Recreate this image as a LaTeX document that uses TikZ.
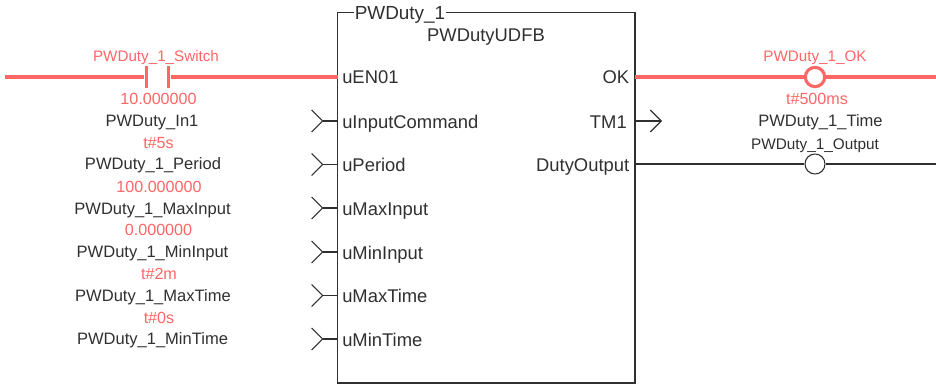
\documentclass[tikz,border=0pt]{standalone}
\usepackage{xcolor}
\usepackage{fontspec}
\setmainfont{Liberation Sans}
\usetikzlibrary{arrows.meta}
\definecolor{livered}{HTML}{FF6666}
\definecolor{wire}{HTML}{303030}

\begin{document}
\begin{tikzpicture}[
    x=0.75pt,
    y=-0.75pt,
    block/.style={
        draw=wire,
        line width=0.95pt,
        minimum width=223.1pt,
        minimum height=277.9pt,
        inner sep=0pt
    },
    pinname/.style={font=\fontsize{13.8}{15}\selectfont, text=wire, inner sep=0pt},
    varname/.style={font=\fontsize{12.4}{14}\selectfont, text=wire, inner sep=0pt, anchor=base},
    coilname/.style={font=\fontsize{11.5}{13}\selectfont, text=wire, inner sep=0pt, anchor=base},
    livename/.style={font=\fontsize{11.4}{13}\selectfont, text=livered, inner sep=0pt, anchor=base},
    value/.style={font=\fontsize{12.1}{14}\selectfont, text=livered, inner sep=0pt, anchor=base},
    plate/.style={fill=livered, minimum width=2.8pt, minimum height=17pt, inner sep=0pt},
    coil/.style={circle, draw=wire, line width=0.8pt, minimum size=15pt, inner sep=0pt},
    livecoil/.style={circle, draw=livered, line width=2.3pt, minimum size=14.5pt, inner sep=0pt},
    live/.style={draw=livered, line width=2.3pt},
    signal/.style={draw=wire, line width=0.8pt},
    inpin/.style={signal, -{Straight Barb[reversed, length=8.25pt, width=16.5pt, line width=0.8pt]}},
    outpin/.style={signal, -{Straight Barb[length=8.25pt, width=16.5pt, line width=0.8pt]}}
]
\useasboundingbox (0,0) rectangle (936,385);
\fill[white] (0,0) rectangle (936,385);

% function block
\node[block] (fb) at (486.25,197.75) {};
\node[pinname, font=\fontsize{14.2}{15}\selectfont, fill=white, inner xsep=0.5pt, inner ysep=2pt, anchor=base] (inst) at (400,19.5) {PWDuty\_1};
\node[pinname, anchor=base] (type) at (486,41.7) {PWDutyUDFB};

% pin names
\node[pinname, anchor=base west] (uEN) at (342,84) {uEN01};
\node[pinname, anchor=base west] (uInput) at (342,128) {uInputCommand};
\node[pinname, anchor=base west] (uPeriod) at (342,171.7) {uPeriod};
\node[pinname, anchor=base west] (uMaxIn) at (342,215.7) {uMaxInput};
\node[pinname, anchor=base west] (uMinIn) at (342,259) {uMinInput};
\node[pinname, anchor=base west] (uMaxT) at (342,302.7) {uMaxTime};
\node[pinname, anchor=base west] (uMinT) at (342,346) {uMinTime};
\node[pinname, anchor=base east] (ok) at (629.5,83.5) {OK};
\node[pinname, anchor=base east] (tm) at (627,128) {TM1};
\node[pinname, anchor=base east] (duty) at (629.5,171.7) {DutyOutput};

% left column
\node[livename] (swName) at (156,61.5) {PWDuty\_1\_Switch};
\node[value] (swVal) at (158.5,104) {10.000000};
\node[varname] (inName) at (152,126.5) {PWDuty\_In1};
\node[value] (perVal) at (158.5,148.5) {t\#5s};
\node[varname] (perName) at (153,170) {PWDuty\_1\_Period};
\node[value] (maxInVal) at (159,192) {100.000000};
\node[varname] (maxInName) at (152.5,214) {PWDuty\_1\_MaxInput};
\node[value] (minInVal) at (158.5,235.7) {0.000000};
\node[varname] (minInName) at (152.5,257.7) {PWDuty\_1\_MinInput};
\node[value] (maxTVal) at (159,279.5) {t\#2m};
\node[varname] (maxTName) at (153,301.3) {PWDuty\_1\_MaxTime};
\node[value] (minTVal) at (159,323.3) {t\#0s};
\node[varname] (minTName) at (152.5,344.7) {PWDuty\_1\_MinTime};

% right column
\node[livename] (okName) at (815,61.5) {PWDuty\_1\_OK};
\node[value] (okVal) at (817,105) {t\#500ms};
\node[varname] (tmName) at (820.5,126.7) {PWDuty\_1\_Time};
\node[coilname] (dutyName) at (815,149) {PWDuty\_1\_Output};

% rung ends and pin ends
\coordinate (railL) at (5,77);
\coordinate (railR) at (936,77);
\coordinate (railD) at (936,164);
\coordinate (pEN) at (337.5,77);
\coordinate (pOK) at (635,77);
\coordinate (pTM) at (635,121);
\coordinate (eTM) at (662,121);
\coordinate (pDuty) at (635,164);
\coordinate (pInput) at (337.5,121);
\coordinate (eInput) at (311,121);
\coordinate (pPeriod) at (337.5,164.5);
\coordinate (ePeriod) at (311,164.5);
\coordinate (pMaxIn) at (337.5,208);
\coordinate (eMaxIn) at (311,208);
\coordinate (pMinIn) at (337.5,252);
\coordinate (eMinIn) at (311,252);
\coordinate (pMaxT) at (337.5,295.5);
\coordinate (eMaxT) at (311,295.5);
\coordinate (pMinT) at (337.5,339);
\coordinate (eMinT) at (311,339);

% contact and coils
\node[plate] (swL) at (146.5,77) {};
\node[plate] (swR) at (168.5,77) {};
\node[livecoil] (okCoil) at (815,77) {};
\node[coil] (dutyCoil) at (815,164) {};

\draw[live] (railL) -- (swL);
\draw[live] (swR) -- (pEN);
\draw[live] (pOK) -- (okCoil);
\draw[live] (okCoil) -- (railR);
\draw[signal] (pDuty) -- (dutyCoil);
\draw[signal] (dutyCoil) -- (railD);
\draw[outpin] (pTM) -- (eTM);
\draw[inpin] (pInput) -- (eInput);
\draw[inpin] (pPeriod) -- (ePeriod);
\draw[inpin] (pMaxIn) -- (eMaxIn);
\draw[inpin] (pMinIn) -- (eMinIn);
\draw[inpin] (pMaxT) -- (eMaxT);
\draw[inpin] (pMinT) -- (eMinT);
\end{tikzpicture}
\end{document}
